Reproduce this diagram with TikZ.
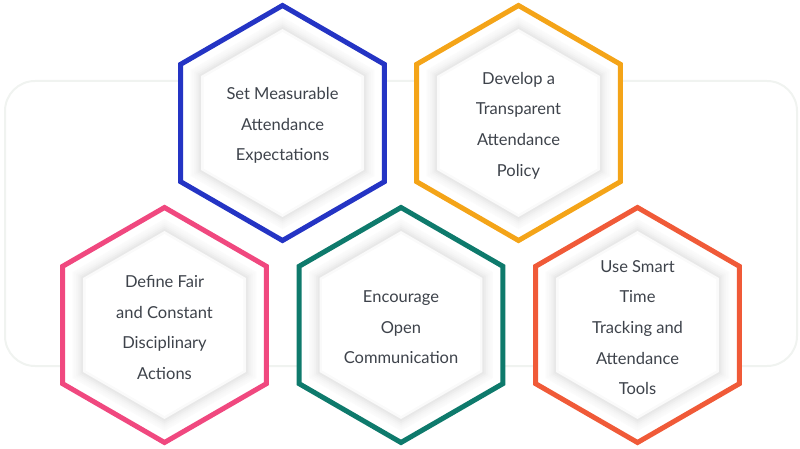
\documentclass[tikz,border=0pt]{standalone}
\usepackage{fontspec}
\setmainfont{Lato}
\definecolor{hblue}{HTML}{2434C4}
\definecolor{horange}{HTML}{F4A418}
\definecolor{hpink}{HTML}{F0487F}
\definecolor{hteal}{HTML}{0E7A6C}
\definecolor{hred}{HTML}{F05A38}
\definecolor{txtc}{HTML}{3E434B}
\definecolor{bgline}{HTML}{F0F3F0}
\tikzset{
  txt/.style={align=center, text=txtc, font=\fontsize{16.5}{30.6}\selectfont, inner sep=0pt},
  hexline/.style={line width=5pt, line join=miter},
}
\newcommand{\hexagonpath}[3]{(#1,#2) +(90:#3) -- +(150:#3) -- +(210:#3) -- +(270:#3) -- +(330:#3) -- +(30:#3) -- cycle}
\newcommand{\hexa}[5]{%
  \fill[white] \hexagonpath{#2}{#3}{118};
  \foreach \r/\c in {106/1.5,104/2.5,102/3.5,100/5,98/7,96/9}{\fill[black!\c] \hexagonpath{#2}{#3}{\r};}
  \fill[black!2] \hexagonpath{#2}{#3}{94};
  \fill[white] \hexagonpath{#2}{#3}{91};
  \draw[#4, hexline] \hexagonpath{#2}{#3}{117.5};
  \node[txt] (#1) at (#2,#3+2.5) {#5};
}
\begin{document}
\begin{tikzpicture}[x=1pt,y=-1pt]
\useasboundingbox (0,0) rectangle (800,449);
\draw[bgline, line width=2pt, rounded corners=30pt] (5,81) rectangle (797,366);
\hexa{setm}{282.5}{123}{hblue}{Set Measurable\\Attendance\\Expectations}
\hexa{devp}{518.5}{123}{horange}{Develop a\\Transparent\\Attendance\\Policy}
\hexa{defn}{164.5}{325}{hpink}{Define Fair\\and Constant\\Disciplinary\\Actions}
\hexa{enco}{401}{325}{hteal}{Encourage\\Open\\Communication}
\hexa{usem}{637.5}{325}{hred}{Use Smart\\Time\\Tracking and\\Attendance\\Tools}
\end{tikzpicture}
\end{document}
